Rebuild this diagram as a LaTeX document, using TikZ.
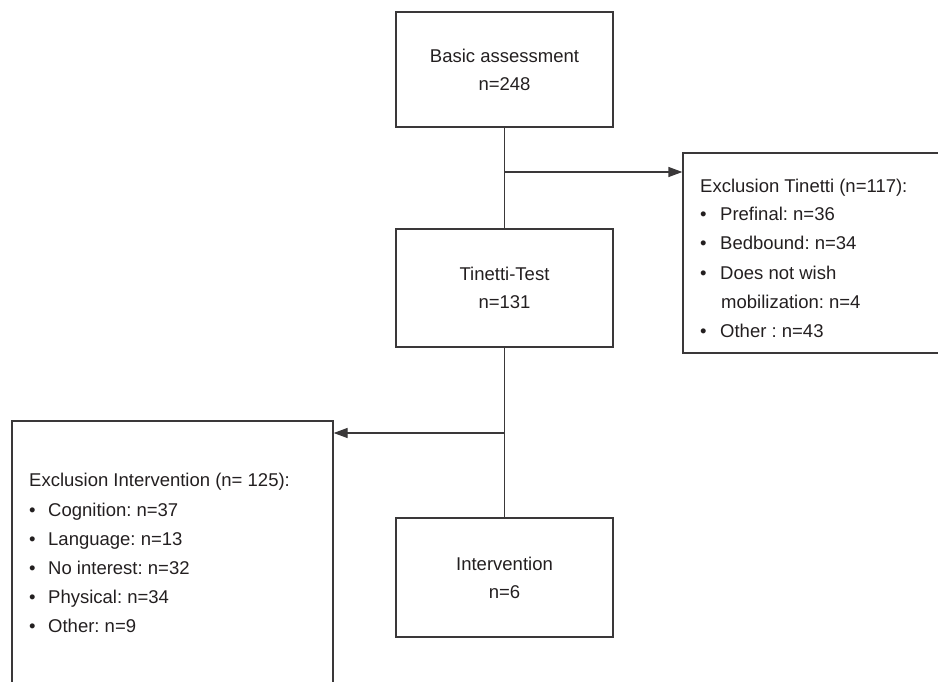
\documentclass[tikz,border=0pt]{standalone}
\usepackage{fontspec}
\setmainfont{Liberation Sans}
\usetikzlibrary{arrows.meta}
\definecolor{ink}{HTML}{231F20}
\definecolor{linec}{HTML}{3A3839}
\frenchspacing
\begin{document}
\begin{tikzpicture}[x=1pt,y=-1pt,
  fnt/.style={font=\fontsize{18.5}{28}\selectfont, text=ink},
  box/.style={draw=linec, line width=1.3pt, inner sep=0pt, align=center, fnt},
  conn/.style={draw=linec, line width=1.3pt},
  arr/.style={conn, -{Triangle[length=14pt,width=10pt]}},
  txt/.style={fnt, anchor=base west, inner sep=0pt},
]
\useasboundingbox (0,0) rectangle (938,682);
\clip (0,0) rectangle (938,682);

% central boxes
\node[box, minimum width=217pt, minimum height=115pt] (top) at (504.5,69.5) {Basic assessment\\n=248};
\node[box, minimum width=217pt, minimum height=118pt] (tin) at (504.5,288) {Tinetti-Test\\n=131};
\node[box, minimum width=217pt, minimum height=119pt] (int) at (504.5,577.5) {Intervention\\n=6};

% exclusion boxes
\node[box, minimum width=277pt, minimum height=200pt] (rbox) at (821.5,253) {};
\node[box, minimum width=321pt, minimum height=299pt] (lbox) at (172.5,570.5) {};

% connectors
\draw[conn] (top) -- (tin);
\draw[conn] (tin) -- (int);
\coordinate (j1) at (504.5,172);
\coordinate (j2) at (504.5,433);
\draw[arr] (j1) -- (j1 -| rbox.west);
\draw[arr] (j2) -- (j2 -| lbox.east);

% right box text
\node[txt] (r0) at (700,192.3) {Exclusion Tinetti (n=117):};
\node[txt] (r1) at (700,221) {\makebox[20pt][l]{\textbullet}Prefinal: n=36};
\node[txt] (r2) at (700,250) {\makebox[20pt][l]{\textbullet}Bedbound: n=34};
\node[txt] (r3) at (700,279) {\makebox[20pt][l]{\textbullet}Does not wish};
\node[txt] (r4) at (721,308.3) {mobilization: n=4};
\node[txt] (r5) at (700,337.7) {\makebox[20pt][l]{\textbullet}Other : n=43};

% left box text
\node[txt] (l0) at (29,486) {Exclusion Intervention (n= 125):};
\node[txt] (l1) at (29,516) {\makebox[19pt][l]{\textbullet}Cognition: n=37};
\node[txt] (l2) at (29,545) {\makebox[19pt][l]{\textbullet}Language: n=13};
\node[txt] (l3) at (29,574) {\makebox[19pt][l]{\textbullet}No interest: n=32};
\node[txt] (l4) at (29,603) {\makebox[19pt][l]{\textbullet}Physical: n=34};
\node[txt] (l5) at (29,632) {\makebox[19pt][l]{\textbullet}Other: n=9};
\end{tikzpicture}
\end{document}
